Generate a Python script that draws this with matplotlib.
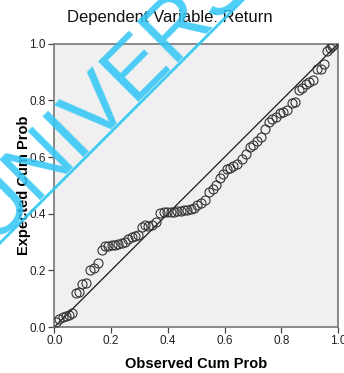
import matplotlib
matplotlib.use("Agg")
import matplotlib.pyplot as plt

# observed / expected cumulative probabilities
observed = [0.006, 0.017, 0.029, 0.041, 0.052, 0.063, 0.075, 0.087, 0.099, 0.111,
            0.126, 0.140, 0.154, 0.167, 0.178, 0.190, 0.202, 0.214, 0.225, 0.237,
            0.249, 0.261, 0.273, 0.284, 0.296, 0.308, 0.319, 0.331, 0.343, 0.358,
            0.372, 0.386, 0.398, 0.410, 0.421, 0.433, 0.445, 0.457, 0.468, 0.480,
            0.492, 0.504, 0.515, 0.530, 0.546, 0.558, 0.570, 0.584, 0.595, 0.607,
            0.619, 0.630, 0.644, 0.660, 0.677, 0.689, 0.701, 0.713, 0.728, 0.742,
            0.756, 0.768, 0.781, 0.795, 0.806, 0.818, 0.836, 0.847, 0.861, 0.873,
            0.885, 0.897, 0.912, 0.926, 0.938, 0.949, 0.962, 0.971, 0.977, 0.983]
expected = [0.019, 0.027, 0.034, 0.039, 0.042, 0.048, 0.119, 0.125, 0.152, 0.154,
            0.201, 0.207, 0.225, 0.272, 0.286, 0.287, 0.289, 0.289, 0.292, 0.295,
            0.301, 0.310, 0.317, 0.321, 0.325, 0.354, 0.360, 0.356, 0.360, 0.372,
            0.401, 0.407, 0.407, 0.405, 0.407, 0.410, 0.411, 0.413, 0.413, 0.415,
            0.419, 0.431, 0.439, 0.448, 0.478, 0.486, 0.501, 0.525, 0.540, 0.556,
            0.562, 0.568, 0.574, 0.592, 0.610, 0.634, 0.642, 0.657, 0.671, 0.699,
            0.724, 0.736, 0.742, 0.757, 0.759, 0.765, 0.789, 0.795, 0.836, 0.845,
            0.859, 0.865, 0.871, 0.909, 0.912, 0.930, 0.975, 0.985, 0.991, 0.994]
ticks = [0.0, 0.2, 0.4, 0.6, 0.8, 1.0]
tick_labels = ['0.0', '0.2', '0.4', '0.6', '0.8', '1.0']

plt.rcParams['font.family'] = ['Liberation Sans', 'DejaVu Sans']

fig = plt.figure(figsize=(3.44, 3.73), dpi=100)
ax = fig.add_axes([0.158, 0.1233, 0.825, 0.7595])
ax.set_facecolor('#f0f0f0')

ax.plot([0, 1], [0, 1], color='#1a1a1a', lw=0.9, zorder=2)
ax.plot(observed, expected, 'o', ms=6.5, mfc='none', mec='#333333', mew=0.8, zorder=3)

ax.set_xlim(0, 1)
ax.set_ylim(0, 1)
ax.set_xticks(ticks)
ax.set_xticklabels(tick_labels)
ax.set_yticks(ticks)
ax.set_yticklabels(tick_labels)
ax.tick_params(direction='out', length=4, width=0.9, color='#444444',
               labelsize=8.5, pad=2, labelcolor='#222222')
for s in ax.spines.values():
    s.set_color('#777777')
    s.set_linewidth(1.2)

ax.set_xlabel('Observed Cum Prob', fontsize=10.5, fontweight='bold', labelpad=7)
ax.set_ylabel('Expected Cum Prob', fontsize=10.5, fontweight='bold', labelpad=-1)
fig.text(0.495, 0.952, 'Dependent Variable: Return', fontsize=12,
         ha='center', va='center', color='#111111')

# watermark over the chart
wm = '#2ec6f5'
fig.text(-8 / 344, 1 - 242 / 373, 'UNIVERSITY', fontsize=60, color=wm,
         alpha=0.85, rotation=45, rotation_mode='anchor',
         ha='left', va='baseline', zorder=10)
fig.add_artist(plt.Line2D([-10 / 344, 253 / 344], [1 - 253 / 373, 1 - (-10) / 373],
                          color=wm, lw=2.0, alpha=0.9, zorder=10))

fig.savefig('out.png', dpi=100)
